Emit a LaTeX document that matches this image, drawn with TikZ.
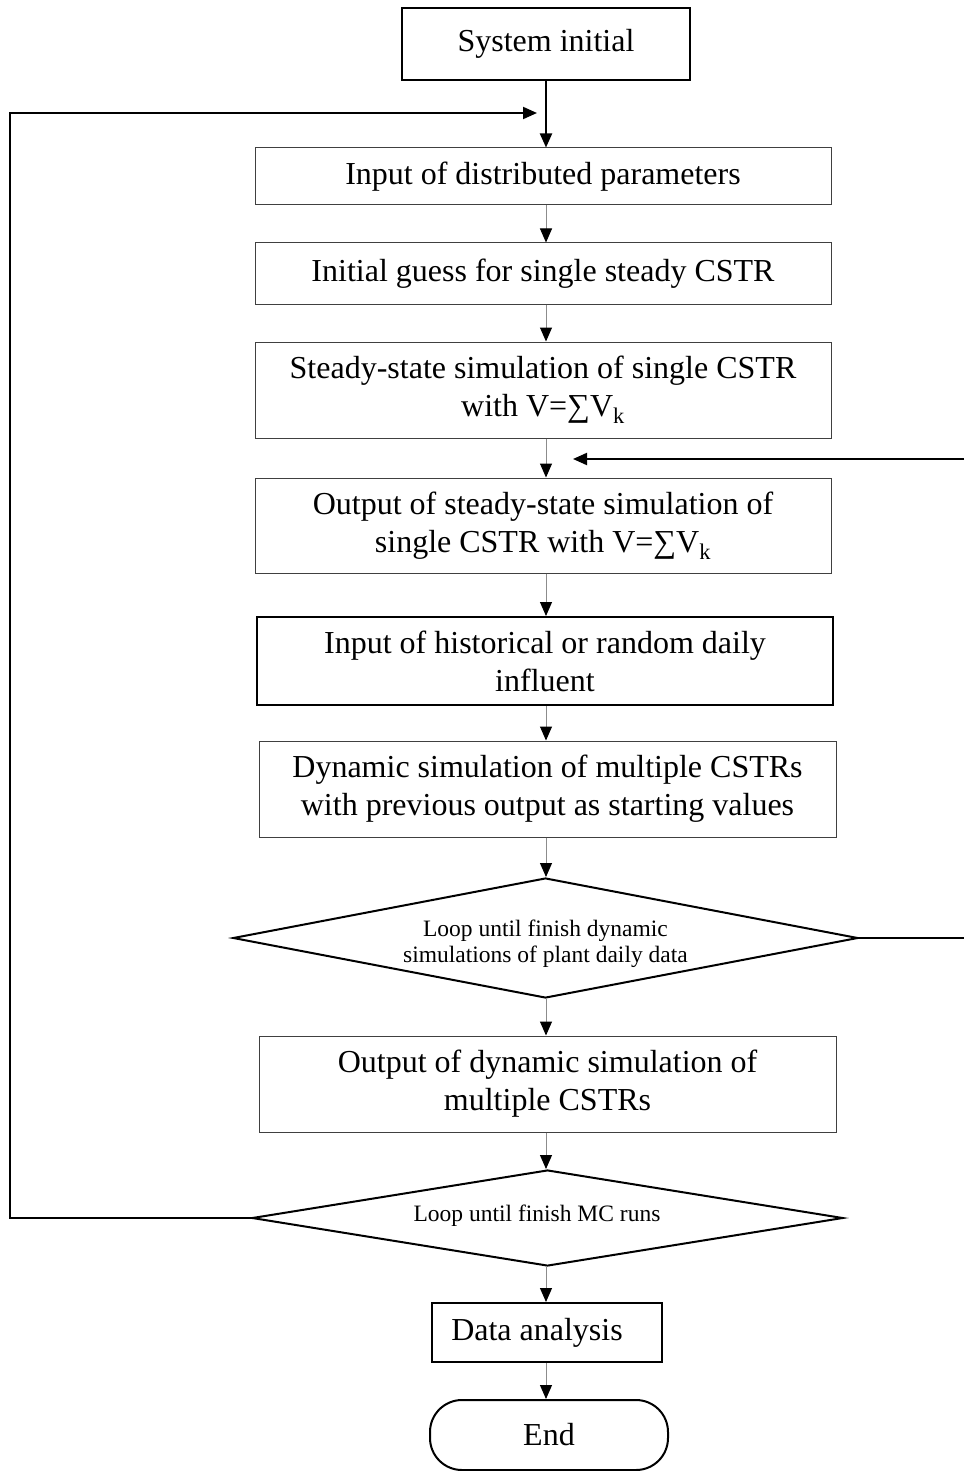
\documentclass[tikz,border=0pt]{standalone}
\usepackage{fontspec}
\setmainfont{Liberation Serif}
\usetikzlibrary{arrows.meta,shapes.geometric}
\begin{document}
\begin{tikzpicture}[x=1pt,y=-1pt,
  thinbox/.style={draw=black!75,line width=1pt,rectangle,inner sep=0pt,align=center,
    font=\fontsize{32}{38}\selectfont},
  thickbox/.style={draw=black,line width=2pt,rectangle,inner sep=0pt,align=center,
    font=\fontsize{32}{38}\selectfont},
  decision/.style={draw=black,line width=2pt,diamond,inner sep=0pt},
  dtext/.style={inner sep=0pt,align=center,font=\fontsize{23.5}{26}\selectfont},
  tip/.style={-{Triangle[length=14pt,width=12pt,color=black]}},
  conn/.style={draw=black!45,line width=1pt,tip},
  bold/.style={draw=black,line width=2pt,tip}]
\useasboundingbox (0,0) rectangle (964,1471);

\node[thickbox,minimum width=288,minimum height=72] (sys) at (546,44) {System initial};
\node[thinbox,minimum width=576,minimum height=57] (b1) at (543,176.5) {Input of distributed parameters};
\node[thinbox,minimum width=576,minimum height=61] (b2) at (543,273.5) {Initial guess for single steady CSTR};
\node[thinbox,minimum width=576,minimum height=96] (b3) at (543,390) {Steady-state simulation of single CSTR\\with V=∑V\textsubscript{k}};
\node[thinbox,minimum width=576,minimum height=95] (b4) at (543,525.5) {Output of steady-state simulation of\\single CSTR with V=∑V\textsubscript{k}};
\node[thickbox,minimum width=576,minimum height=88] (b5) at (545,661) {Input of historical or random daily\\influent};
\node[thinbox,minimum width=577,minimum height=96] (b6) at (547.5,789) {Dynamic simulation of multiple CSTRs\\with previous output as starting values};
\node[decision,minimum width=625,minimum height=120,aspect=5.2] (d1) at (545.5,938) {};
\node[dtext] (d1t) at (545.5,944) {Loop until finish dynamic\\simulations of plant daily data};
\node[thinbox,minimum width=577,minimum height=96] (b7) at (547.5,1084) {Output of dynamic simulation of\\multiple CSTRs};
\node[decision,minimum width=591,minimum height=96,aspect=6.15] (d2) at (547.5,1218) {};
\node[dtext] (d2t) at (537,1216) {Loop until finish MC runs};
\node[thickbox,minimum width=230,minimum height=59] (b8) at (547,1332.5) {Data analysis\hspace*{20pt}};
\node[draw=black,line width=2pt,rectangle,rounded corners=32pt,minimum width=238,minimum height=70,
  inner sep=0pt,font=\fontsize{32}{38}\selectfont] (end) at (549,1435) {End};

\draw[bold] (sys.south) -- (sys.south |- b1.north);
\draw[conn] (b1.south -| sys.south) -- (b2.north -| sys.south);
\draw[conn] (b2.south -| sys.south) -- (b3.north -| sys.south);
\draw[conn] (b3.south -| sys.south) -- (b4.north -| sys.south);
\draw[conn] (b4.south -| sys.south) -- (b5.north -| sys.south);
\draw[conn] (b5.south -| sys.south) -- (b6.north -| sys.south);
\draw[conn] (b6.south -| sys.south) -- (d1.north -| sys.south);
\draw[conn] (d1.south -| sys.south) -- (b7.north -| sys.south);
\draw[conn] (b7.south -| sys.south) -- (d2.north -| sys.south);
\draw[conn] (d2.south -| sys.south) -- (b8.north -| sys.south);
\draw[conn] (b8.south -| sys.south) -- (end.north -| sys.south);

\coordinate (lc) at (10,113);
\coordinate (lt) at (537,113);
\draw[bold] (d2.west) -| (lc) -- (lt);

\coordinate (rc1) at (964,938);
\coordinate (rc2) at (964,459);
\coordinate (rt) at (573,459);
\draw[draw=black,line width=2pt] (d1.east) -- (rc1);
\draw[bold] (rc2) -- (rt);
\end{tikzpicture}
\end{document}
